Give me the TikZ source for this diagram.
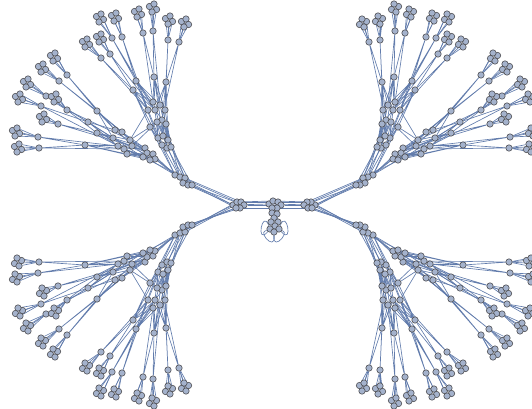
\documentclass[tikz,border=0pt]{standalone}
\usetikzlibrary{backgrounds}
\definecolor{edgec}{RGB}{98,124,172}
\definecolor{vfill}{RGB}{164,178,204}
\definecolor{vline}{RGB}{78,78,82}
\tikzset{vtx/.style={circle,draw=vline,fill=vfill,line width=0.6pt,inner sep=0pt,minimum size=6.4pt},
 edg/.style={draw=edgec,line width=0.65pt}}
\newcommand{\levelone}{a3/143/33/138/13/A/1, a3/153/31/153/8/A/2, a4/168/40/169/20/A/3, a4/179/42/185/23/A/6, a1/122/37/115/17/A/4, a1/112/38/100/18/A/5, a2/110/54/100/38/A/7, a2/101/58/86/43/A/4, b1/67/75/54/57/B/1, b1/59/81/42/68/B/2, b2/46/96/27/83/B/3, b2/41/106/19/98/B/5, b3/67/110/55/98/B/4, b3/58/124/43/118/B/6, b4/38/137/16/132/B/5, b4/39/148/18/148/B/7}
\newcommand{\leveltwo}{a1/136/81/A/1/2/4/5/P/1, a2/133/90/A/4/5/9/1/P/4, a3/154/77/A/1/2/3/5/P/2, a4/166/82/A/2/3/5/6/P/3, b1/97/111/B/1/2/3/4/Q/2, b2/88/122/B/1/3/5/2/Q/3, b3/97/133/B/3/4/5/6/Q/1, b4/85/145/B/5/6/7/8/Q/6}
\newcommand{\drawquad}[2]{%
 \foreach \x/\y [count=\i] in {175/175,180/177,185/178,183/183,188/185,192/185}{\node[vtx] (#1H\i) at (\x,\y) {};}
 \foreach \x/\y [count=\i] in {158/138,163/136,168/140,162/145,167/148,171/147}{\node[vtx] (#1P\i) at (\x,\y) {};}
 \foreach \x/\y [count=\i] in {145/148,147/153,143/157,153/154,155/159,150/160}{\node[vtx] (#1Q\i) at (\x,\y) {};}
 \foreach \x/\y [count=\i] in {153/102,160/105,165/110,148/110,155/110,162/120,166/124,157/122,150/127}{\node[vtx] (#1A\i) at (\x,\y) {};}
 \foreach \x/\y [count=\i] in {115/130,122/132,113/138,130/140,118/146,132/146,124/149,127/154}{\node[vtx] (#1B\i) at (\x,\y) {};}
 \foreach \n/\x/\y/\h/\ia/\ib/\ic/\id/\g/\gi in \leveltwo {\node[vtx] (#1\n) at (\x,\y) {};}
 \foreach \pa/\x/\y/\lx/\ly/\s/\si [count=\i] in \levelone {%
  \node[vtx] (#1m\i) at (\x,\y) {};
  \foreach \ox/\oy [count=\k] in {-3.5/-1.5,1/-4,3.5/1.5,-1/4}{%
   \node[vtx] (#1f\i-\k) at ({\lx+(\ox)},{\ly+(\oy)}) {};}}
 \begin{pgfonlayer}{background}
 \foreach \i in {1,...,6}{\draw[edg] (#1H\i) -- (#2\i) (#1H\i) -- (#1P\i) (#1H\i) -- (#1Q\i);}
 \foreach \p/\a in {1/9,1/8,1/5,2/6,2/8,2/3,3/7,3/6,3/2,4/9,4/4,4/8,5/7,5/6,5/1,6/7,6/3,6/8}{\draw[edg] (#1P\p) -- (#1A\a);}
 \foreach \q/\b in {1/6,1/7,1/4,2/4,2/6,2/8,3/8,3/7,3/5,4/6,4/8,4/2,5/8,5/7,5/3,6/7,6/5,6/1}{\draw[edg] (#1Q\q) -- (#1B\b);}
 \foreach \a/\b in {9/4,4/4,8/6}{\draw[edg] (#1A\a) -- (#1B\b);}
 \foreach \a/\h in {9/1,7/2,6/3}{\draw[edg] (#1A\a) -- (#1H\h);}
 \foreach \n/\x/\y/\h/\ia/\ib/\ic/\id/\g/\gi in \leveltwo {%
  \draw[edg] (#1\n) -- (#1\h\ia) (#1\n) -- (#1\h\ib) (#1\n) -- (#1\h\ic) (#1\n) -- (#1\h\id) (#1\n) -- (#1\g\gi);}
 \foreach \pa/\x/\y/\lx/\ly/\s/\si [count=\i] in \levelone {%
  \draw[edg] (#1m\i) -- (#1\pa) (#1m\i) -- (#1\s\si);
  \foreach \k in {1,...,4}{\draw[edg] (#1f\i-\k) -- (#1m\i);}}
 \end{pgfonlayer}
}
\begin{document}
\begin{tikzpicture}[x=1pt,y=-1pt]
\useasboundingbox (0,0) rectangle (532,409);
\foreach \x/\y [count=\i] in {233/205,237/202,241/202,244/205,240/208,236/208}{\node[vtx] (L\i) at (\x,\y) {};}
\foreach \x/\y [count=\i] in {315/205,311/202,307/202,304/205,308/208,312/208}{\node[vtx] (R\i) at (\x,\y) {};}
\foreach \x/\y [count=\i] in {269/204,273/201,278/202,281/205,277/208,272/208}{\node[vtx] (C\i) at (\x,\y) {};}
\foreach \x/\y [count=\i] in {272/213,277/214,274/218,278/222,271/222,275/226,270/229,279/229,274/232}{\node[vtx] (K\i) at (\x,\y) {};}
\begin{pgfonlayer}{background}
\foreach \i in {1,...,6}{\draw[edg] (L\i) -- (C\i) (C\i) -- (R\i);}
\draw[edg] (C6) -- (K1) (C5) -- (K2) (C5) -- (K1) (K1) -- (K3) (K2) -- (K3) (K3) -- (K5) (K3) -- (K4) (K4) -- (K6) (K5) -- (K6) (K5) -- (K7) (K6) -- (K8) (K6) -- (K9) (K7) -- (K9) (K8) -- (K9) (K2) -- (K4);
\draw[edg] (K7) to[out=110,in=230,min distance=19pt] (K7);
\draw[edg] (K9) to[out=165,in=275,min distance=19pt] (K9);
\draw[edg] (K9) to[out=265,in=15,min distance=19pt] (K9);
\draw[edg] (K8) to[out=310,in=70,min distance=19pt] (K8);
\end{pgfonlayer}
\drawquad{UL}{L}
\begin{scope}[shift={(0,410)},yscale=-1]
\drawquad{LL}{L}
\end{scope}
\begin{scope}[shift={(548,0)},xscale=-1]
\drawquad{UR}{R}
\end{scope}
\begin{scope}[shift={(548,410)},xscale=-1,yscale=-1]
\drawquad{LR}{R}
\end{scope}
\end{tikzpicture}
\end{document}
